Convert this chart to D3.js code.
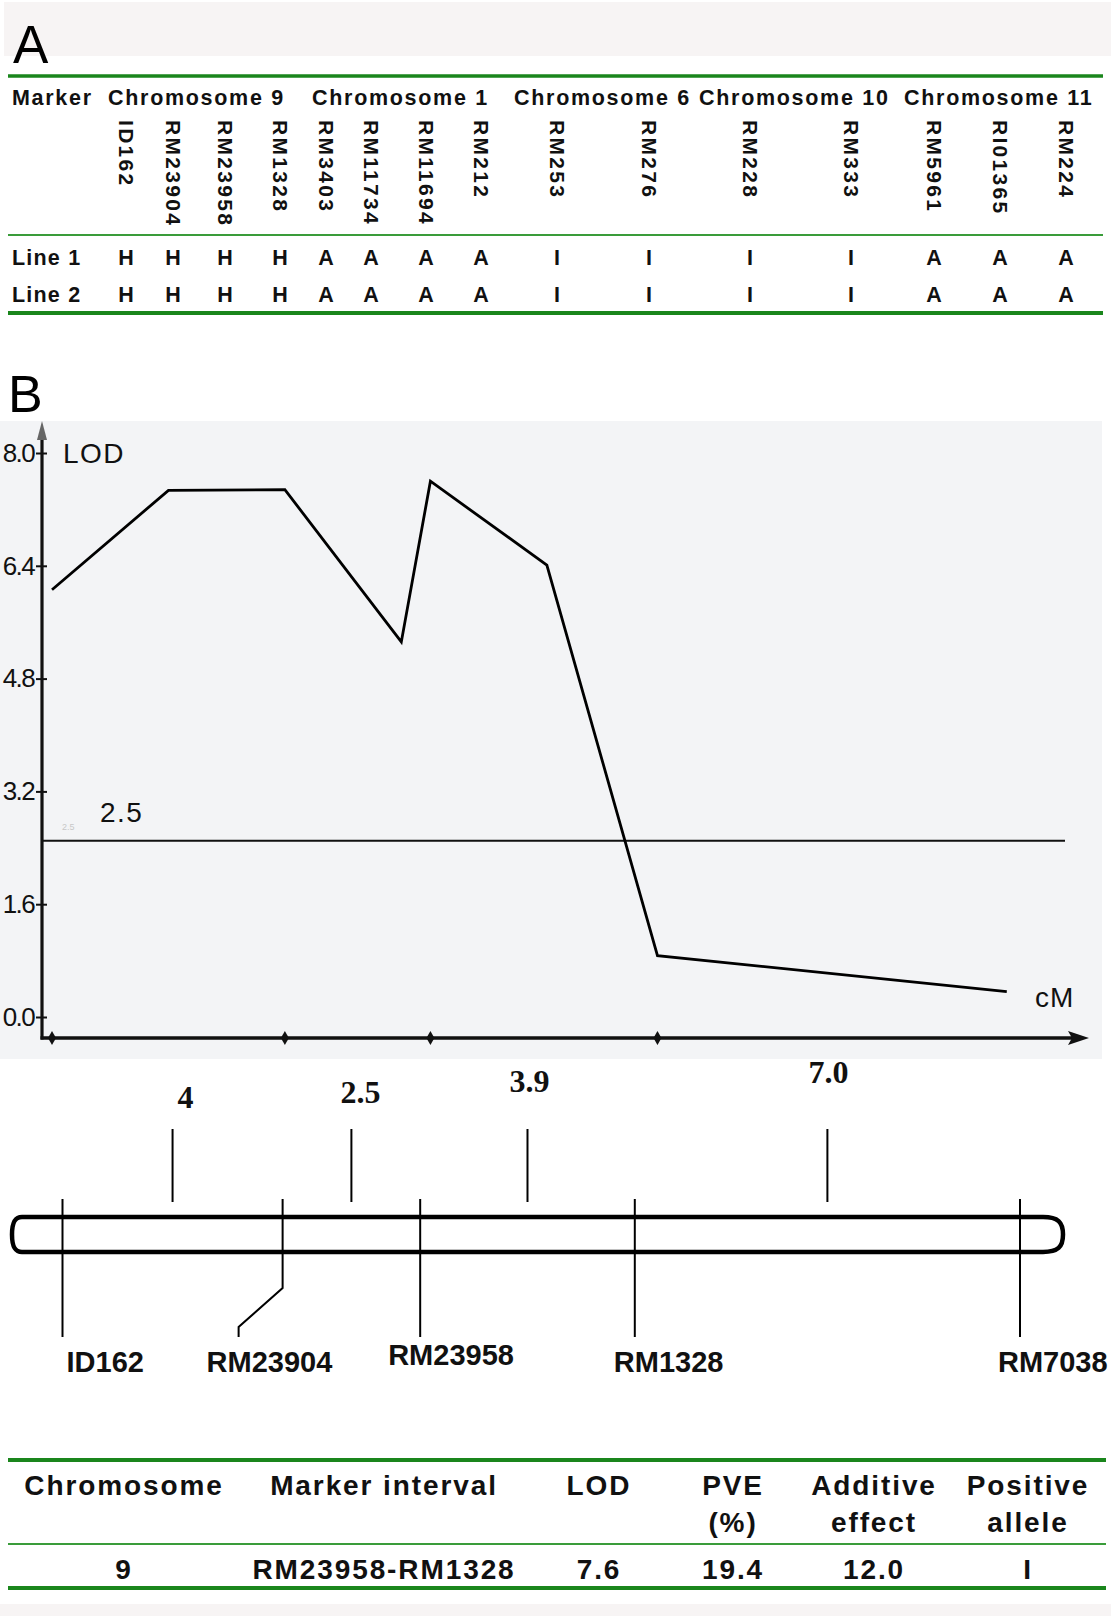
<!DOCTYPE html>
<html>
<head>
<meta charset="utf-8">
<script src="https://cdn.jsdelivr.net/npm/d3@7"></script>
<style>
  body { margin: 0; background: #fff; }
  svg { display: block; }
</style>
</head>
<body>
<div id="chart"></div>
<script>
// ---- panel A: marker genotypes ----
let chromGroups = ["Chromosome 9", "Chromosome 1", "Chromosome 6", "Chromosome 10", "Chromosome 11"];
let markersA = ["ID162", "RM23904", "RM23958", "RM1328", "RM3403", "RM11734", "RM11694", "RM212",
                "RM253", "RM276", "RM228", "RM333", "RM5961", "RI01365", "RM224"];
let line1 = ["H", "H", "H", "H", "A", "A", "A", "A", "I", "I", "I", "I", "A", "A", "A"];
let line2 = ["H", "H", "H", "H", "A", "A", "A", "A", "I", "I", "I", "I", "A", "A", "A"];
let lineNames = ["Line 1", "Line 2"];

// ---- panel B: LOD profile ----
let lodCM = [0, 2.0, 4.0, 6.0, 6.5, 8.5, 10.4, 16.4];
let lodValues = [6.06, 7.47, 7.48, 5.32, 7.60, 6.41, 0.87, 0.36];
let yTicks = [0, 1.6, 3.2, 4.8, 6.4, 8.0];
let threshold = 2.5;

// ---- linkage map ----
let mapMarkers = ["ID162", "RM23904", "RM23958", "RM1328", "RM7038"];
let intervals = [4, 2.5, 3.9, 7.0];
let intervalLabels = ["4", "2.5", "3.9", "7.0"];

// ---- QTL table ----
let qtlHeader = [["Chromosome"], ["Marker interval"], ["LOD"], ["PVE", "(%)"], ["Additive", "effect"], ["Positive", "allele"]];
let qtlRow = ["9", "RM23958-RM1328", "7.6", "19.4", "12.0", "I"];

let w = 1111;
let h = 1616;
let green = "#1a861c";
let sans = "'Liberation Sans', Arial, sans-serif";
let serif = "'Liberation Serif', 'Times New Roman', serif";

let svg = d3.select("#chart")
    .append("svg")
    .attr("width", w)
    .attr("height", h);

svg.append("rect").attr("width", w).attr("height", h).attr("fill", "#fff");

// ================= panel A =================
svg.append("rect").attr("x", 4).attr("y", 2).attr("width", w - 4).attr("height", 54).attr("fill", "#f7f4f4");
svg.append("text").text("A")
    .attr("x", 13).attr("y", 63)
    .attr("font-family", sans).attr("font-size", 53).attr("fill", "#000");

function greenLine(y, x1, x2, sw, col) {
    svg.append("line")
        .attr("x1", x1).attr("x2", x2).attr("y1", y).attr("y2", y)
        .attr("stroke", col || green).attr("stroke-width", sw);
}
greenLine(76, 8, 1103, 3.5);
greenLine(235, 8, 1103, 2, "#3a9c3a");
greenLine(313, 8, 1103, 4);

// column layout of the genotype table
let colX = [126, 173, 225, 280, 326, 371, 426, 481, 557, 649, 750, 851, 934, 1000, 1066];
let groupX = [108, 312, 514, 699, 904];

let headA = svg.append("g")
    .attr("font-family", sans).attr("font-weight", "bold")
    .attr("font-size", 21.5).attr("letter-spacing", 1.7).attr("fill", "#111");

headA.append("text").text("Marker").attr("x", 12).attr("y", 105);
headA.selectAll("text.grp")
    .data(chromGroups)
    .enter()
    .append("text")
    .attr("class", "grp")
    .attr("x", function(d, i) { return groupX[i]; })
    .attr("y", 105)
    .text(function(d) { return d; });

svg.append("g").selectAll("text")
    .data(markersA)
    .enter()
    .append("text")
    .attr("transform", function(d, i) { return "translate(" + colX[i] + ",120) rotate(90)"; })
    .attr("dominant-baseline", "central")
    .attr("font-family", sans).attr("font-weight", "bold")
    .attr("font-size", 21).attr("letter-spacing", 2.3).attr("fill", "#111")
    .text(function(d) { return d; });

let rowY = [265, 302];
[line1, line2].forEach(function(row, r) {
    let g = svg.append("g")
        .attr("font-family", sans).attr("font-weight", "bold")
        .attr("font-size", 21.5).attr("fill", "#111");
    g.append("text").text(lineNames[r])
        .attr("x", 12).attr("y", rowY[r]).attr("letter-spacing", 1.2);
    g.selectAll("text.v")
        .data(row)
        .enter()
        .append("text")
        .attr("class", "v")
        .attr("x", function(d, i) { return colX[i]; })
        .attr("y", rowY[r])
        .attr("text-anchor", "middle")
        .text(function(d) { return d; });
});

// ================= panel B =================
svg.append("text").text("B")
    .attr("x", 8).attr("y", 412)
    .attr("font-family", sans).attr("font-size", 52).attr("fill", "#000");

svg.append("rect").attr("x", 0).attr("y", 421).attr("width", 1102).attr("height", 638).attr("fill", "#f3f4f6");

let yLod = d3.scaleLinear().domain([0, 8]).range([1017, 453]);
let xCM = d3.scaleLinear().domain([0, 17.4]).range([52, 1065]);

let yAxis = d3.axisLeft(yLod)
    .tickValues(yTicks)
    .tickFormat(d3.format(".1f"))
    .tickSize(6)
    .tickPadding(2);

let yg = svg.append("g")
    .attr("transform", "translate(42,0)")
    .call(yAxis);
yg.select(".domain").remove();
yg.selectAll(".tick line").attr("x1", 5).attr("x2", -6).attr("stroke", "#111").attr("stroke-width", 2);
yg.selectAll(".tick text")
    .attr("font-family", sans).attr("font-size", 26).attr("letter-spacing", -1.6).attr("fill", "#111");

// axis lines with arrows
svg.append("line").attr("x1", 42).attr("x2", 42).attr("y1", 1039.5).attr("y2", 432)
    .attr("stroke", "#111").attr("stroke-width", 3.2);
svg.append("path").attr("d", "M42,421 L37,440 L47,440 Z").attr("fill", "#666");
svg.append("line").attr("x1", 40.5).attr("x2", 1074).attr("y1", 1038).attr("y2", 1038)
    .attr("stroke", "#111").attr("stroke-width", 3.6);
svg.append("path").attr("d", "M1089,1038 L1068,1031 L1072,1038 L1068,1045 Z").attr("fill", "#111");

let markerCM = d3.cumsum([0].concat(intervals));

svg.append("g").selectAll("path")
    .data(markerCM.slice(0, 4))
    .enter()
    .append("path")
    .attr("d", function(d) {
        let x = xCM(d);
        return "M" + x + ",1031 L" + (x + 4) + ",1038 L" + x + ",1045 L" + (x - 4) + ",1038 Z";
    })
    .attr("fill", "#111");

// threshold line
svg.append("line")
    .attr("x1", 42).attr("x2", xCM(17.4))
    .attr("y1", yLod(threshold)).attr("y2", yLod(threshold))
    .attr("stroke", "#111").attr("stroke-width", 2);
svg.append("text").text("2.5")
    .attr("x", 100).attr("y", 822)
    .attr("font-family", sans).attr("font-size", 28).attr("letter-spacing", 1.5).attr("fill", "#111");
svg.append("text").text("2.5")
    .attr("x", 62).attr("y", 830)
    .attr("font-family", sans).attr("font-size", 9).attr("fill", "#c8c8c8");

svg.append("text").text("LOD")
    .attr("x", 63).attr("y", 463)
    .attr("font-family", sans).attr("font-size", 28).attr("letter-spacing", 1.5).attr("fill", "#111");
svg.append("text").text("cM")
    .attr("x", 1035).attr("y", 1007)
    .attr("font-family", sans).attr("font-size", 28).attr("letter-spacing", 1).attr("fill", "#111");

let lodData = lodCM.map(function(c, i) { return { cm: c, lod: lodValues[i] }; });
let lodLine = d3.line()
    .x(function(d) { return xCM(d.cm); })
    .y(function(d) { return yLod(d.lod); });

svg.append("path")
    .datum(lodData)
    .attr("d", lodLine)
    .attr("fill", "none")
    .attr("stroke", "#000")
    .attr("stroke-width", 2.8)
    .attr("stroke-linejoin", "miter");

// ================= linkage map =================
let xMap = d3.scaleLinear().domain([0, 17.4]).range([62.5, 1020]);
let barTop = 1217, barBot = 1252;

svg.append("path")
    .attr("d", "M22," + barTop + " H1043 C1058," + barTop + " 1063," + (barTop + 5) + " 1063," + (barTop + barBot) / 2 +
        " C1063," + (barBot - 5) + " 1058," + barBot + " 1043," + barBot +
        " H22 C15," + barBot + " 12," + (barBot - 5) + " 12," + (barTop + barBot) / 2 +
        " C12," + (barTop + 5) + " 15," + barTop + " 22," + barTop + " Z")
    .attr("fill", "none").attr("stroke", "#000").attr("stroke-width", 4.5);

// interval ticks above the bar
let mids = intervals.map(function(d, i) { return (markerCM[i] + markerCM[i + 1]) / 2; });
svg.append("g").selectAll("line")
    .data(mids)
    .enter()
    .append("line")
    .attr("x1", function(d) { return xMap(d); })
    .attr("x2", function(d) { return xMap(d); })
    .attr("y1", 1129).attr("y2", 1202)
    .attr("stroke", "#000").attr("stroke-width", 2);

let numDx = [13, 9, 2, 1];
let numY = [1108, 1103, 1092, 1083];
svg.append("g").selectAll("text")
    .data(intervalLabels)
    .enter()
    .append("text")
    .attr("x", function(d, i) { return xMap(mids[i]) + numDx[i]; })
    .attr("y", function(d, i) { return numY[i]; })
    .attr("text-anchor", "middle")
    .attr("font-family", serif).attr("font-weight", "bold")
    .attr("font-size", 32).attr("fill", "#111")
    .text(function(d) { return d; });

// marker lines (RM23904 has a bent leader)
let bend = [0, -44, 0, 0, 0];
svg.append("g").selectAll("path")
    .data(markerCM)
    .enter()
    .append("path")
    .attr("d", function(d, i) {
        let x = xMap(d);
        if (bend[i] === 0) return "M" + x + ",1199 V1337";
        return "M" + x + ",1199 V1288 L" + (x + bend[i]) + ",1327 V1337";
    })
    .attr("fill", "none").attr("stroke", "#000").attr("stroke-width", 2);

let labDx = [4, -32, -32, -21, -22];
let labY = [1372, 1372, 1365, 1372, 1372];
svg.append("g").selectAll("text")
    .data(mapMarkers)
    .enter()
    .append("text")
    .attr("x", function(d, i) { return xMap(markerCM[i]) + bend[i] + labDx[i]; })
    .attr("y", function(d, i) { return labY[i]; })
    .attr("font-family", sans).attr("font-weight", "bold")
    .attr("font-size", 29).attr("fill", "#111")
    .text(function(d) { return d; });

// ================= QTL table =================
let qtlX = [124, 384, 599, 733, 874, 1028];
greenLine(1460, 8, 1106, 4);
greenLine(1544, 8, 1106, 2, "#3a9c3a");
greenLine(1588, 8, 1106, 4);

let tb = svg.append("g")
    .attr("font-family", sans).attr("font-weight", "bold")
    .attr("font-size", 28).attr("letter-spacing", 1.9).attr("fill", "#111")
    .attr("text-anchor", "middle");

qtlHeader.forEach(function(lines, i) {
    lines.forEach(function(t, k) {
        tb.append("text").text(t)
            .attr("x", qtlX[i]).attr("y", 1495 + k * 37);
    });
});
tb.selectAll("text.cell")
    .data(qtlRow)
    .enter()
    .append("text")
    .attr("class", "cell")
    .attr("x", function(d, i) { return qtlX[i]; })
    .attr("y", 1579)
    .text(function(d) { return d; });

svg.append("rect").attr("x", 0).attr("y", 1604).attr("width", w).attr("height", 12).attr("fill", "#f7f4f4");
</script>
</body>
</html>
